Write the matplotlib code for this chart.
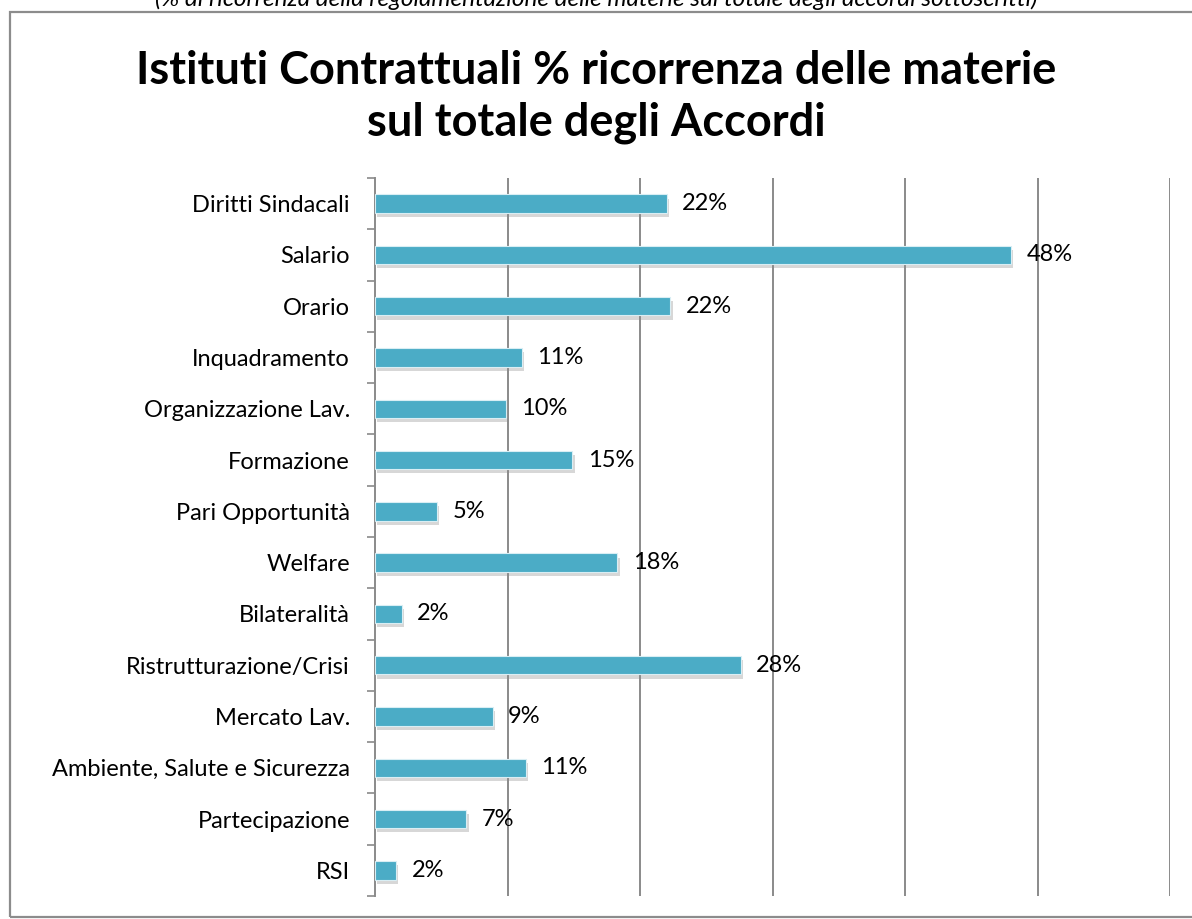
import matplotlib.pyplot as plt
import matplotlib.patheffects as pe
from matplotlib.patches import Rectangle
import numpy as np


# -----------------------------
# Data
# -----------------------------
categories = [
    "Diritti Sindacali",
    "Salario",
    "Orario",
    "Inquadramento",
    "Organizzazione Lav.",
    "Formazione",
    "Pari Opportunità",
    "Welfare",
    "Bilateralità",
    "Ristrutturazione/Crisi",
    "Mercato Lav.",
    "Ambiente, Salute e Sicurezza",
    "Partecipazione",
    "RSI",
]
values = [22.0, 48.0, 22.3, 11.1, 9.9, 14.9, 4.7, 18.3, 2.0, 27.6, 8.9, 11.4, 6.9, 1.6]
x_gridlines = [10, 20, 30, 40, 50, 60]

title = "Istituti Contrattuali % ricorrenza delle materie\nsul totale degli Accordi"
caption = "(% di ricorrenza della regolamentazione delle materie sul totale degli accordi sottoscritti)"

bar_color = "#4BACC6"
font = "Lato"


# -----------------------------
# Figure
# -----------------------------
fig = plt.figure(figsize=(11.92, 9.19), dpi=100)
fig.patch.set_facecolor("white")

# outer chart frame (cut off on the right / bottom like the screenshot)
frame = Rectangle((10 / 1192, 2 / 919), 1.0, 1 - 14 / 919,
                  transform=fig.transFigure, fill=False,
                  edgecolor="#8c8c8c", linewidth=1.6, zorder=0)
fig.patches.append(frame)

# caption text, partly cut off by the top of the image as in the source
fig.text(0.5, 1 - 10 / 919, caption, ha="center", va="bottom",
         fontsize=17.5, style="italic", family=font, color="black")

fig.text(0.5, 1 - 97 / 919, title, ha="center", va="center",
         fontsize=32.5, fontweight="bold", family=font, linespacing=1.3)

ax = fig.add_axes([375 / 1192, 1 - 896 / 919, (1170 - 375) / 1192, (896 - 178) / 919])

y = np.arange(len(categories))
bars = ax.barh(y, values, height=0.36, color=bar_color,
               edgecolor="#d9eef4", linewidth=0.8, zorder=3)
for b in bars:
    b.set_path_effects([
        pe.SimplePatchShadow(offset=(1.5, -3), shadow_rgbFace="#8f8f8f", alpha=0.35),
        pe.Normal(),
    ])

for yi, v in zip(y, values):
    ax.annotate(f"{round(v)}%", (v, yi), xytext=(11, 0), textcoords="offset points",
                ha="left", va="center", fontsize=17, family=font, zorder=4)

ax.set_xlim(0, 60)
ax.set_ylim(len(categories) - 0.5, -0.5)

# vertical gridlines
for gx in x_gridlines:
    ax.axvline(gx, color="#8a8a8a", linewidth=1.4, zorder=1)

ax.set_xticks([])
ax.set_yticks(y)
ax.set_yticklabels(categories, fontsize=17, family=font)
ax.tick_params(axis="y", which="major", length=0, pad=18)
ax.set_yticks(np.arange(-0.5, len(categories)), minor=True)
ax.tick_params(axis="y", which="minor", length=6, width=1.2, color="#8a8a8a", direction="out")

for side in ["top", "right", "bottom"]:
    ax.spines[side].set_visible(False)
ax.spines["left"].set_color("#8a8a8a")
ax.spines["left"].set_linewidth(1.4)

fig.savefig("out.png", dpi=100)
